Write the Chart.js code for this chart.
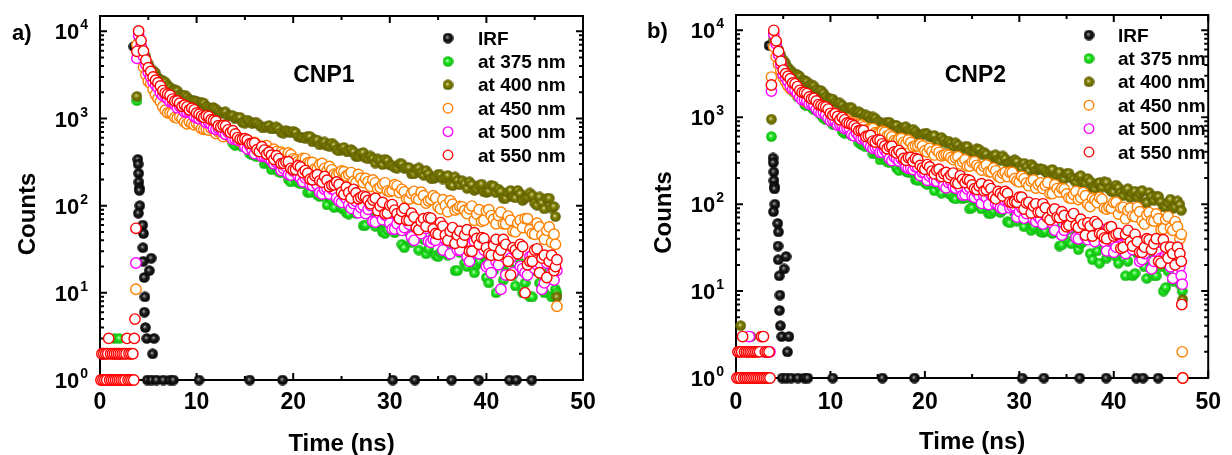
<!DOCTYPE html>
<html>
<head>
<meta charset="utf-8">
<title>Decaimiento de fotoluminiscencia CNP1 / CNP2</title>
<script src="https://cdn.jsdelivr.net/npm/chart.js@4.4.1/dist/chart.umd.min.js"></script>
<style>
    html, body { margin: 0; padding: 0; background: #fff; }
    #wrap { position: relative; width: 1232px; height: 455px; }
    canvas { position: absolute; top: 0; }
    #chartA { left: 0; }
    #chartB { left: 616px; }
</style>
</head>
<body>
<div id="wrap">
    <canvas id="chartA" width="616" height="455"></canvas>
    <canvas id="chartB" width="616" height="455"></canvas>
</div>
<script>
// Tiempos (ns) de los canales: rejilla entera y rejilla desplazada medio paso
const gridNs = [4,4.5,5,5.5,6,6.5,7,7.5,8,8.5,9,9.5,10,10.5,11,11.5,12,12.5,13,13.5,
    14,14.5,15,15.5,16,16.5,17,17.5,18,18.5,19,19.5,20,20.5,21,21.5,22,22.5,23,23.5,
    24,24.5,25,25.5,26,26.5,27,27.5,28,28.5,29,29.5,30,30.5,31,31.5,32,32.5,33,33.5,
    34,34.5,35,35.5,36,36.5,37,37.5,38,38.5,39,39.5,40,40.5,41,41.5,42,42.5,43,43.5,
    44,44.5,45,45.5,46,46.5,47];
const gridHalfNs = [4.25,4.75,5.25,5.75,6.25,6.75,7.25,7.75,8.25,8.75,
    9.25,9.75,10.25,10.75,11.25,11.75,12.25,12.75,13.25,13.75,
    14.25,14.75,15.25,15.75,16.25,16.75,17.25,17.75,18.25,18.75,
    19.25,19.75,20.25,20.75,21.25,21.75,22.25,22.75,23.25,23.75,
    24.25,24.75,25.25,25.75,26.25,26.75,27.25,27.75,28.25,28.75,
    29.25,29.75,30.25,30.75,31.25,31.75,32.25,32.75,33.25,33.75,
    34.25,34.75,35.25,35.75,36.25,36.75,37.25,37.75,38.25,38.75,
    39.25,39.75,40.25,40.75,41.25,41.75,42.25,42.75,43.25,43.75,
    44.25,44.75,45.25,45.75,46.25,46.75];

// IRF (respuesta del instrumento), la misma en los dos paneles
const irfTime = [3.5,3.92,3.95,4.0,4.02,4.06,4.08,4.12,3.97,4.42,
    4.5,4.45,4.48,5.3,4.58,5.1,4.65,4.6,4.7,4.85,
    5.6,5.45,4.9,5.35,5.85,6.55,7.25,7.6,10.25,15.5,
    18.9,30.3,32.6,36.4,39.2,42.4,43.1,44.7];
const irfCounts = [6700,340,300,235,187,160,150,100,82,60,
    48,33,23,25,15,18,9,6,4,3,
    3,2,1,1,1,1,1,1,1,1,
    1,1,1,1,1,1,1,1];

// ---------- CNP1 ----------
const cnp1_375 = [8950,4870,3220,2600,2060,1770,1620,1370,1340,1200,
    1090,1110,920,930,886,783,703,726,626,606,
    491,504,496,397,377,386,302,319,285,244,
    271,200,213,184,199,142,166,133,147,102,
    119,126,94,83,102,82,86,60,87,58,
    64,48,64,49,63,33,49,50,31,41,
    32,44,26,43,27,30,18,33,20,28,
    21,30,15,25,10,21,17,19,12,22,
    13,9,18,13,10,18,9];
const cnp1_375_half = [6540,3990,2785,2380,1900,1760,1475,1370,1191,1192,
    1104,953,996,870,854,730,717,632,653,523,
    533,472,467,382,363,377,325,260,290,238,
    244,187,219,178,178,142,171,127,130,127,
    95,116,91,80,102,84,59,80,66,76,
    50,53,61,55,36,59,38,42,48,28,
    40,27,29,41,34,18,29,22,34,17,
    23,27,13,18,25,14,19,16,18,10,
    19,9,19,11,14,9];
const cnp1_400 = [7630,5960,4260,3530,2940,2740,2410,2130,2080,1830,
    1770,1590,1580,1540,1380,1280,1280,1150,1190,1080,
    993,1033,883,915,900,840,781,833,765,763,
    679,709,716,620,604,626,540,566,529,487,
    522,440,458,423,441,367,398,354,372,308,
    333,341,293,275,302,269,274,232,272,224,
    232,204,229,202,222,170,195,194,158,175,
    156,177,142,172,141,146,122,150,123,138,
    122,140,107,126,92,122,98];
const cnp1_400_half = [6800,5140,3750,3340,2790,2620,2280,2130,1890,1860,
    1650,1610,1495,1505,1322,1339,1206,1187,1069,1078,
    1016,902,961,875,890,798,810,758,802,695,
    730,684,692,605,594,622,569,498,538,480,
    494,424,467,414,415,366,407,344,349,345,
    296,329,288,270,302,273,231,263,238,254,
    207,212,225,210,175,214,173,179,188,150,
    171,144,147,168,155,122,142,126,150,115,
    126,132,101,108,121,94];
const cnp1_450 = [5960,3905,2670,2164,1701,1367,1159,1145,1015,1003,
    871,881,876,765,753,770,672,697,654,603,
    640,544,562,517,531,449,479,428,444,371,
    394,402,345,321,349,310,313,265,305,251,
    258,225,250,220,240,184,207,205,167,183,
    162,183,145,174,141,144,119,146,118,130,
    114,130,97,117,85,104,93,97,81,99,
    80,66,87,77,62,84,62,68,50,68,
    71,53,47,57,41,57,47];
const cnp1_450_half = [4950,3180,2520,1885,1560,1247,1156,1032,1052,908,
    917,846,847,752,738,764,702,620,663,594,
    606,525,568,505,502,445,487,414,418,410,
    353,385,337,314,347,313,265,297,268,282,
    230,234,245,229,191,228,184,189,197,156,
    177,148,149,169,154,119,138,121,143,107,
    118,123,92,101,114,89,98,88,92,68,
    90,68,90,70,77,62,76,51,63,56,
    71,48,63,46,52,38];
const cnp1_500 = [9000,5160,3370,2610,2260,1830,1680,1540,1330,1300,
    1180,1170,1020,1030,897,856,751,768,659,648,
    577,577,474,487,396,409,367,352,303,317,
    267,229,250,222,188,216,170,172,136,157,
    155,123,109,120,93,112,95,81,100,65,
    79,78,63,54,70,56,61,40,52,59,
    39,41,50,31,43,38,31,44,26,35,
    29,37,20,17,23,11,16,25,30,20,
    17,26,19,22,13,25,14];
const cnp1_500_half = [6770,4150,3000,2420,1970,1850,1550,1445,1378,1197,
    1183,1051,997,991,906,773,774,690,700,579,
    567,544,450,441,443,368,366,327,315,254,
    280,224,249,207,208,173,188,142,154,136,
    153,113,130,103,106,83,100,91,66,90,
    69,76,54,62,52,69,44,56,48,55,
    38,40,51,41,28,42,31,38,23,39,
    28,31,21,36,21,26,27,17,28,19,
    16,27,21,11,22,17];
const cnp1_550 = [10100,5940,3830,3000,2580,2090,1900,1670,1590,1380,
    1360,1314,1158,1066,1073,968,932,802,823,694,
    665,581,586,516,522,418,434,411,340,347,
    306,319,258,288,239,236,198,227,186,196,
    172,187,143,163,122,140,125,126,105,122,
    99,81,101,89,71,93,68,74,53,71,
    73,54,47,58,40,56,46,38,53,30,
    42,43,33,27,41,31,36,16,31,36,
    10,23,31,17,27,23,18];
const cnp1_550_half = [7840,4680,3470,2750,2360,1960,1850,1590,1500,1420,
    1256,1258,1120,1033,1053,952,826,832,741,724,
    605,578,567,517,438,474,391,380,375,304,
    319,268,260,278,253,201,220,193,216,166,
    174,175,135,142,154,120,129,115,116,88,
    109,82,103,81,86,68,82,56,66,58,
    72,48,64,46,51,37,51,46,30,49,
    36,42,28,35,27,41,23,33,28,34,
    21,23,32,25,15,27];

// CNP1: línea base antes del pulso, flanco de subida y últimos canales [t, cuentas]
const cnp1Extra375 = [[0.7,2],[1.5,3],[2.0,3],[2.4,1],[3.3,2],[3.82,1600],[47.15,11],[47.3,10]];
const cnp1Extra400 = [[0.8,1],[1.8,2],[3.0,1],[3.82,1800],[47.15,75],[47.3,9]];
const cnp1Extra450 = [[0.5,1],[1.6,2],[2.6,1],[3.72,11],[3.82,7000],[47.15,36],[47.3,7]];
const cnp1Extra500 = [[0.3,2],[1.0,1],[2.0,2],[2.9,1],[3.72,22],[3.82,4900],[47.15,22],[47.3,18]];
const cnp1Extra550 = [[0.1,1],[0.2,2],[0.3,1],[0.4,2],[0.5,1],[0.6,2],[0.7,1],[0.8,2],[0.9,3],[1.0,1],
    [1.1,2],[1.2,1],[1.3,2],[1.4,1],[1.5,2],[1.6,1],[1.7,2],[1.8,1],[1.9,2],[2.0,1],
    [2.1,2],[2.2,1],[2.3,2],[2.4,1],[2.5,2],[2.6,1],[2.7,2],[2.8,3],[2.9,1],[3.0,2],
    [3.1,1],[3.2,2],[3.3,1],[3.4,2],[3.5,1],[3.55,3],[3.62,5],[3.72,55],[3.82,5900],
    [47.15,20],[47.3,24]];

// ---------- CNP2 ----------
const cnp2_375 = [8800,5060,2940,2460,2000,1720,1620,1350,1310,1210,
    1060,938,934,817,784,652,655,629,512,478,
    474,378,386,350,308,333,261,272,239,251,
    191,213,176,190,143,162,168,134,119,138,
    115,119,91,119,88,95,78,96,80,94,
    61,79,78,55,67,55,69,47,65,46,
    48,34,51,35,43,35,45,27,38,21,
    32,27,30,21,32,22,15,27,22,14,
    27,15,19,11,19,21,12];
const cnp2_375_half = [6800,3970,2730,2130,1920,1680,1410,1413,1219,1160,
    980,940,828,843,688,693,612,595,487,456,
    462,396,323,356,299,308,244,278,231,229,
    188,219,168,174,171,134,160,129,115,139,
    118,88,113,97,110,78,84,94,86,63,
    91,64,69,76,50,65,48,49,64,55,
    33,47,37,52,30,37,41,23,29,38,
    24,30,25,28,15,29,16,29,19,23,
    15,24,10,17,13,22];
const cnp2_400 = [7790,6060,4570,3740,3280,3090,2680,2570,2350,2100,
    2030,1730,1640,1500,1460,1260,1290,1170,1160,1010,
    1030,1010,897,849,881,812,806,721,777,683,
    683,624,657,597,618,517,547,532,462,479,
    439,462,396,436,377,376,331,369,319,334,
    304,325,268,296,242,270,251,253,225,251,
    218,194,224,204,179,213,175,183,150,178,
    181,150,138,155,126,151,133,120,144,104,
    122,124,106,93,114,93,99];
const cnp2_400_half = [6980,5180,4200,3490,3130,2960,2660,2360,2290,2010,
    1900,1640,1620,1450,1380,1250,1285,1131,1106,1065,
    947,973,880,833,876,812,726,768,713,728,
    636,634,643,605,532,586,505,502,508,432,
    457,404,399,425,397,333,359,328,359,295,
    307,310,257,268,288,245,257,238,242,200,
    234,195,227,194,203,176,197,155,171,157,
    179,140,166,136,143,119,141,133,104,136,
    111,122,94,104,89,109];
const cnp2_450 = [6490,4080,2850,2290,2050,1810,1690,1480,1470,1290,
    1240,1110,1100,1010,1010,866,886,861,762,776,
    718,741,650,690,606,597,531,571,500,513,
    469,488,412,440,368,395,367,365,325,352,
    307,275,305,280,247,283,236,242,202,232,
    233,196,181,197,163,190,168,151,177,132,
    151,152,131,117,140,119,125,94,112,119,
    90,92,104,77,92,85,73,92,64,75,
    65,77,51,67,53,63,40];
const cnp2_450_half = [4970,3450,2570,2120,1970,1750,1530,1500,1360,1320,
    1150,1100,1080,1008,894,945,828,817,816,713,
    738,663,648,672,627,539,563,515,547,460,
    470,468,397,403,420,360,372,344,342,290,
    325,274,308,266,272,237,260,209,226,207,
    231,185,209,175,183,153,176,165,132,167,
    138,149,118,129,113,136,100,117,104,114,
    88,90,105,91,68,90,72,82,59,80,
    64,68,52,72,50,55];
const cnp2_500 = [9000,5260,3090,2600,2110,1890,1590,1540,1440,1240,
    1120,1070,913,923,822,741,753,611,612,574,
    497,439,455,396,390,317,333,332,269,259,
    269,213,229,210,186,211,163,177,157,170,
    127,149,124,137,102,120,127,101,91,109,
    91,95,82,69,93,67,72,59,74,60,
    72,44,59,59,41,51,42,54,37,53,
    37,40,28,43,29,37,30,39,23,34,
    18,29,24,26,19,28,19];
const cnp2_500_half = [6970,4050,2850,2280,2060,1700,1590,1420,1380,1165,
    1143,979,930,814,816,749,634,661,565,550,
    458,449,395,419,335,350,313,315,259,250,
    265,231,188,217,183,195,154,183,153,155,
    128,155,120,125,125,99,121,98,89,110,
    94,71,91,78,88,63,67,75,68,50,
    72,50,54,60,40,53,39,41,52,47,
    29,40,32,45,27,33,37,22,27,35,
    22,28,24,26,14,26];
const cnp2_550 = [10000,5720,3490,2970,2480,2250,1930,1870,1630,1540,
    1370,1310,1110,1100,936,934,846,799,701,703,
    609,532,548,495,434,465,388,383,320,345,
    335,279,252,268,223,252,224,202,228,173,
    193,192,166,147,172,146,151,115,133,140,
    106,107,120,88,105,95,81,101,70,83,
    71,82,55,72,57,67,44,56,63,46,
    41,54,43,46,32,50,33,37,28,40,
    30,40,21,32,32,20,27];
const cnp2_550_half = [7560,4400,3170,2770,2420,2040,1920,1710,1650,1400,
    1330,1240,1059,1019,996,860,833,750,710,600,
    618,519,542,468,459,399,413,335,344,310,
    327,262,285,240,245,208,232,217,176,212,
    177,187,151,161,142,165,122,140,124,133,
    104,105,120,103,79,101,81,91,66,88,
    70,74,57,78,54,59,61,43,59,45,
    40,55,45,31,45,37,45,28,32,39,
    35,22,39,24,27,32];

// CNP2: línea base, flanco de subida y últimos canales [t, cuentas]
const cnp2Extra375 = [[0.8,1],[2.2,2],[3.2,1],[3.75,600],[47.15,12],[47.25,10]];
const cnp2Extra400 = [[0.5,4],[1.0,1],[1.6,3],[2.5,1],[3.75,950],[47.15,85],[47.3,8]];
const cnp2Extra450 = [[0.3,1],[1.8,2],[2.6,1],[3.75,2900],[47.15,45],[47.25,2],[47.3,1]];
const cnp2Extra500 = [[0.5,1],[1.4,3],[2.0,1],[3.0,2],[3.3,2],[3.6,2],[3.75,2000],[47.15,15],[47.25,12]];
const cnp2Extra550 = [[0.1,1],[0.2,2],[0.3,1],[0.4,2],[0.5,1],[0.6,2],[0.7,3],[0.8,1],[0.9,2],[1.0,1],
    [1.1,2],[1.2,1],[1.3,2],[1.4,1],[1.5,2],[1.6,1],[1.7,2],[1.8,1],[1.9,2],[2.0,1],
    [2.1,2],[2.2,1],[2.3,2],[2.4,1],[2.5,2],[2.6,1],[2.7,3],[2.8,1],[2.9,3],[3.0,1],
    [3.1,2],[3.2,1],[3.3,2],[3.4,1],[3.5,2],[3.6,1],[3.75,2350],
    [47.15,22],[47.2,7],[47.3,1]];

// Etiquetas de series y ejes
const seriesLabels = ['IRF', 'at 375 nm', 'at 400 nm', 'at 450 nm', 'at 500 nm', 'at 550 nm'];
const xMarks = [0,5,10,15,20,25,30,35,40,45,50];
const yExponents = ['0','1','2','3','4'];

const FONT = "'Liberation Sans', Arial, sans-serif";
const SPHERE = 11;

// Marcador esférico (relleno con brillo) como imagen para pointStyle
function sphere(base, hi, edge) {
    const c = document.createElement('canvas');
    c.width = SPHERE; c.height = SPHERE;
    const g = c.getContext('2d');
    const r = SPHERE / 2;
    const grd = g.createRadialGradient(r - 0.8, r - 0.8, 0.2, r, r, r);
    grd.addColorStop(0, hi);
    grd.addColorStop(0.35, base);
    grd.addColorStop(1, edge);
    g.fillStyle = grd;
    g.beginPath();
    g.arc(r, r, r - 0.2, 0, Math.PI * 2);
    g.fill();
    return c;
}

const styles = [
    { img: sphere('#202020', '#b0b0b0', '#000000'), order: 5 },
    { img: sphere('#1ee61e', '#d0ffd0', '#0fb00f'), order: 4 },
    { img: sphere('#808000', '#dcdca8', '#5a5a00'), order: 3 },
    { color: '#ff8000', order: 2 },
    { color: '#ff00ff', order: 1 },
    { color: '#ff0000', order: 0 }
];

function toPoints(values, half, extra) {
    const pts = gridNs.map((t, i) => ({ x: t, y: values[i] }));
    gridHalfNs.forEach((t, i) => pts.push({ x: t, y: half[i] }));
    extra.forEach(([t, v]) => pts.push({ x: t, y: v }));
    return pts.sort((a, b) => a.x - b.x);
}

function makeSet(i, data) {
    const s = styles[i];
    const set = {
        label: seriesLabels[i],
        data: data,
        order: s.order,
        clip: false,
        showLine: false,
        pointRadius: 5.2,
        pointBorderWidth: 1.4
    };
    if (s.img) {
        set.pointStyle = s.img;
        set.pointBackgroundColor = '#000';
        set.pointBorderColor = '#000';
    } else {
        set.pointStyle = 'circle';
        set.pointBackgroundColor = '#ffffff';
        set.pointBorderColor = s.color;
    }
    return set;
}

// Marco, marcas hacia dentro y textos (etiquetas 10^n, títulos, leyenda)
const decor = {
    id: 'decor',
    beforeDatasetsDraw(chart) {
        const { ctx, chartArea: a } = chart;
        const xs = chart.scales.x, ys = chart.scales.y;
        ctx.save();
        ctx.strokeStyle = '#000';
        ctx.lineWidth = 2;
        ctx.strokeRect(a.left, a.top, a.right - a.left, a.bottom - a.top);
        ctx.beginPath();
        xMarks.forEach(v => {
            const px = xs.getPixelForValue(v);
            const len = v % 10 === 0 ? 7 : 4;
            ctx.moveTo(px, a.bottom); ctx.lineTo(px, a.bottom - len);
            ctx.moveTo(px, a.top); ctx.lineTo(px, a.top + len);
        });
        for (let k = 0; k <= 4; k++) {
            for (let m = 1; m <= 9; m++) {
                const v = m * Math.pow(10, k);
                if (v > ys.max) break;
                const py = ys.getPixelForValue(v);
                const len = m === 1 ? 7 : 4;
                ctx.moveTo(a.left, py); ctx.lineTo(a.left + len, py);
                ctx.moveTo(a.right, py); ctx.lineTo(a.right - len, py);
            }
        }
        ctx.stroke();
        ctx.restore();
    },
    afterDraw(chart, args, p) {
        const { ctx, chartArea: a } = chart;
        const xs = chart.scales.x, ys = chart.scales.y;
        ctx.save();
        ctx.fillStyle = '#000';

        // etiquetas del eje y: 10 con exponente
        yExponents.forEach((e, k) => {
            const py = ys.getPixelForValue(Math.pow(10, k));
            ctx.font = 'bold 14px ' + FONT;
            const ew = ctx.measureText(e).width;
            const xr = a.left - 12;
            ctx.textAlign = 'left';
            ctx.fillText(e, xr - ew, py - 2);
            ctx.font = 'bold 22px ' + FONT;
            ctx.textAlign = 'right';
            ctx.fillText('10', xr - ew - 1, py + 8);
        });

        // títulos de ejes
        ctx.font = 'bold 24px ' + FONT;
        ctx.textAlign = 'center';
        ctx.fillText('Time (ns)', (a.left + a.right) / 2, a.bottom + 71);
        ctx.save();
        ctx.translate(a.left - 65, (a.top + a.bottom) / 2 + 16);
        ctx.rotate(-Math.PI / 2);
        ctx.fillText('Counts', 0, 0);
        ctx.restore();

        // letra del panel y nombre de la muestra
        ctx.textAlign = 'left';
        ctx.font = 'bold 22px ' + FONT;
        ctx.fillText(p.tag, a.left + p.tagDx, a.top + p.tagDy);
        ctx.font = 'bold 23px ' + FONT;
        ctx.fillText(p.name, xs.getPixelForValue(p.nameT), a.top + p.nameDy);

        // leyenda
        ctx.font = 'bold 19px ' + FONT;
        chart.data.datasets.forEach((ds, i) => {
            const cy = a.top + p.legTop + i * 23.4;
            const cx = a.left + p.legX;
            if (ds.pointStyle instanceof HTMLCanvasElement) {
                ctx.drawImage(ds.pointStyle, cx - SPHERE / 2, cy - SPHERE / 2);
            } else {
                ctx.beginPath();
                ctx.arc(cx, cy, 4.8, 0, Math.PI * 2);
                ctx.fillStyle = '#fff';
                ctx.fill();
                ctx.lineWidth = 1.3;
                ctx.strokeStyle = ds.pointBorderColor;
                ctx.stroke();
                ctx.fillStyle = '#000';
            }
            ctx.fillText(ds.label, a.left + p.legText, cy + 6.5);
        });
        ctx.restore();
    }
};

function buildChart(canvasId, panel, series, halves, extras) {
    const canvas = document.getElementById(canvasId);
    const existing = Chart.getChart(canvas);
    if (existing) existing.destroy();

    const datasets = [makeSet(0, irfTime.map((t, i) => ({ x: t, y: irfCounts[i] })))];
    series.forEach((vals, i) => datasets.push(makeSet(i + 1, toPoints(vals, halves[i], extras[i]))));

    new Chart(canvas, {
        type: 'scatter',
        data: { datasets: datasets },
        plugins: [decor],
        options: {
            responsive: false,
            animation: false,
            events: [],
            layout: { padding: { left: 0, top: panel.padTop, right: panel.padRight, bottom: 0 } },
            scales: {
                x: {
                    type: 'linear',
                    min: 0,
                    max: 50,
                    grid: { display: false, drawTicks: false },
                    border: { display: false },
                    ticks: {
                        stepSize: 10,
                        maxRotation: 0,
                        padding: panel.xPad,
                        color: '#000',
                        font: { family: FONT, size: 23, weight: 'bold' }
                    },
                    afterFit: s => { s.height = panel.xHeight; }
                },
                y: {
                    type: 'logarithmic',
                    min: 1,
                    max: 15000,
                    grid: { display: false, drawTicks: false },
                    border: { display: false },
                    ticks: { display: false },
                    afterFit: s => { s.width = panel.yWidth; }
                }
            },
            plugins: {
                legend: { display: false },
                tooltip: { enabled: false },
                decor: panel
            }
        }
    });
}

buildChart('chartA',
    { tag: 'a)', tagDx: -88, tagDy: 24, name: 'CNP1', nameT: 20.0, nameDy: 66,
      legX: 348, legText: 378, legTop: 22,
      padTop: 16, padRight: 33, xHeight: 75, yWidth: 100, xPad: 9 },
    [cnp1_375, cnp1_400, cnp1_450, cnp1_500, cnp1_550],
    [cnp1_375_half, cnp1_400_half, cnp1_450_half, cnp1_500_half, cnp1_550_half],
    [cnp1Extra375, cnp1Extra400, cnp1Extra450, cnp1Extra500, cnp1Extra550]);

buildChart('chartB',
    { tag: 'b)', tagDx: -89, tagDy: 23, name: 'CNP2', nameT: 22.1, nameDy: 67,
      legX: 353, legText: 382, legTop: 20,
      padTop: 15, padRight: 13, xHeight: 77, yWidth: 120, xPad: 11 },
    [cnp2_375, cnp2_400, cnp2_450, cnp2_500, cnp2_550],
    [cnp2_375_half, cnp2_400_half, cnp2_450_half, cnp2_500_half, cnp2_550_half],
    [cnp2Extra375, cnp2Extra400, cnp2Extra450, cnp2Extra500, cnp2Extra550]);
</script>
</body>
</html>
